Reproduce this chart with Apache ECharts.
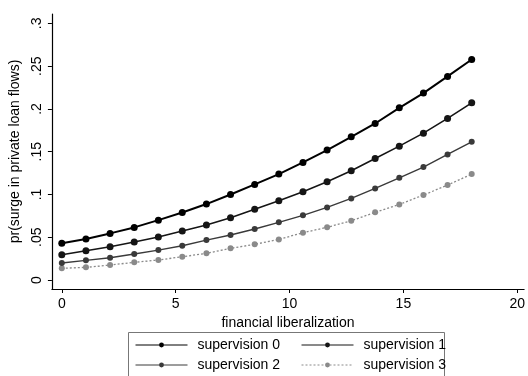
<!DOCTYPE html>
<html>
<head>
<meta charset="utf-8">
<script src="https://cdn.jsdelivr.net/npm/echarts@6/dist/echarts.min.js"></script>
<style>
  html, body { margin: 0; padding: 0; background: #fff; }
  #chart { width: 528px; height: 376px; }
</style>
</head>
<body>
<div id="chart"></div>
<script>
// Financial liberalization index (x) at which predictions are evaluated
const libIndex = [0, 1.06, 2.12, 3.18, 4.24, 5.29, 6.35, 7.41, 8.47, 9.53,
                  10.59, 11.65, 12.71, 13.76, 14.82, 15.88, 16.94, 18];

// Predicted probability of a surge in private loan flows, by supervision level
const supervision0 = [0.043, 0.048, 0.0545, 0.0615, 0.070, 0.079, 0.0888, 0.100, 0.1118,
                      0.1238, 0.1375, 0.1519, 0.1674, 0.183, 0.2013, 0.2185, 0.238, 0.2578];
const supervision1 = [0.0296, 0.0342, 0.0389, 0.0444, 0.0502, 0.0572, 0.0643, 0.0728, 0.0826,
                      0.0926, 0.1032, 0.1148, 0.1277, 0.1421, 0.1565, 0.1717, 0.1889, 0.2071];
const supervision2 = [0.0199, 0.023, 0.0261, 0.0304, 0.035, 0.0401, 0.0467, 0.0526, 0.0596,
                      0.0674, 0.0756, 0.0849, 0.0954, 0.1071, 0.1195, 0.132, 0.1468, 0.1616];
const supervision3 = [0.0137, 0.0148, 0.0175, 0.0207, 0.0234, 0.0272, 0.0312, 0.037, 0.0417,
                      0.0475, 0.0553, 0.0616, 0.0693, 0.0791, 0.0884, 0.0993, 0.111, 0.1238];

const seriesNames = ['supervision 0', 'supervision 1', 'supervision 2', 'supervision 3'];
const xTicks = [0, 5, 10, 15, 20];
const yTicks = [0, 0.05, 0.1, 0.15, 0.2, 0.25, 0.3];
const yTickLabels = ['0', '.05', '.1', '.15', '.2', '.25', '.3'];

const FONT = '"Liberation Sans", Arial, sans-serif';
const styles = [
  { color: '#000000', width: 2,   type: 'solid', size: 7 },
  { color: '#151515', width: 1.6, type: 'solid', size: 7 },
  { color: '#3a3a3a', width: 1.4, type: 'solid', size: 6 },
  { color: '#8a8a8a', width: 1.3, type: [2, 2], size: 6 }
];

const allData = [supervision0, supervision1, supervision2, supervision3];

const legendCommon = {
  orient: 'vertical', top: 338, itemGap: 6, padding: 0,
  itemWidth: 52, itemHeight: 6,
  lineStyle: { width: 1 },
  textStyle: { fontFamily: FONT, fontSize: 14, color: '#000', padding: [0, 0, 0, 5] }
};

const chart = echarts.init(document.getElementById('chart'), null, { renderer: 'canvas' });

chart.setOption({
  animation: false,
  backgroundColor: '#ffffff',
  grid: { left: 49, right: 2, top: 14, bottom: 87, containLabel: false },
  xAxis: {
    type: 'value',
    min: -0.435,
    max: 20.3,
    name: 'financial liberalization',
    nameLocation: 'middle',
    nameGap: 16,
    nameTextStyle: { fontFamily: FONT, fontSize: 14, color: '#000' },
    axisLine: { show: true, onZero: false, lineStyle: { color: '#000', width: 1.2 } },
    axisTick: { show: true, length: 4, customValues: xTicks, lineStyle: { color: '#000' } },
    axisLabel: { customValues: xTicks, fontFamily: FONT, fontSize: 14, color: '#000', margin: 8,
                 formatter: v => String(v) },
    splitLine: { show: false }
  },
  yAxis: {
    type: 'value',
    min: -0.0105,
    max: 0.311,
    name: 'pr(surge in private loan flows)',
    nameLocation: 'middle',
    nameGap: 20,
    nameRotate: 90,
    nameTextStyle: { fontFamily: FONT, fontSize: 14, color: '#000' },
    axisLine: { show: true, onZero: false, lineStyle: { color: '#000', width: 1.2 } },
    axisTick: { show: true, length: 4, customValues: yTicks, lineStyle: { color: '#000' } },
    axisLabel: {
      customValues: yTicks, rotate: 90, fontFamily: FONT, fontSize: 14, color: '#000', margin: 8,
      formatter: v => {
        const i = yTicks.findIndex(t => Math.abs(t - v) < 1e-9);
        return i >= 0 ? yTickLabels[i] : '';
      }
    },
    splitLine: { show: false }
  },
  legend: [
    Object.assign({ left: 135, data: [seriesNames[0], seriesNames[2]] }, legendCommon),
    Object.assign({ left: 301, data: [seriesNames[1], seriesNames[3]] }, legendCommon)
  ],
  graphic: [{
    type: 'rect',
    shape: { x: 128.5, y: 332.5, width: 316, height: 44 },
    style: { fill: 'none', stroke: '#777', lineWidth: 1 }
  }],
  series: allData.map((vals, i) => ({
    name: seriesNames[i],
    type: 'line',
    data: vals.map((v, k) => [libIndex[k], v]),
    symbol: 'circle',
    symbolSize: styles[i].size,
    itemStyle: { color: styles[i].color },
    lineStyle: { color: styles[i].color, width: styles[i].width, type: styles[i].type },
    z: 10 - i
  }))
});
</script>
</body>
</html>
